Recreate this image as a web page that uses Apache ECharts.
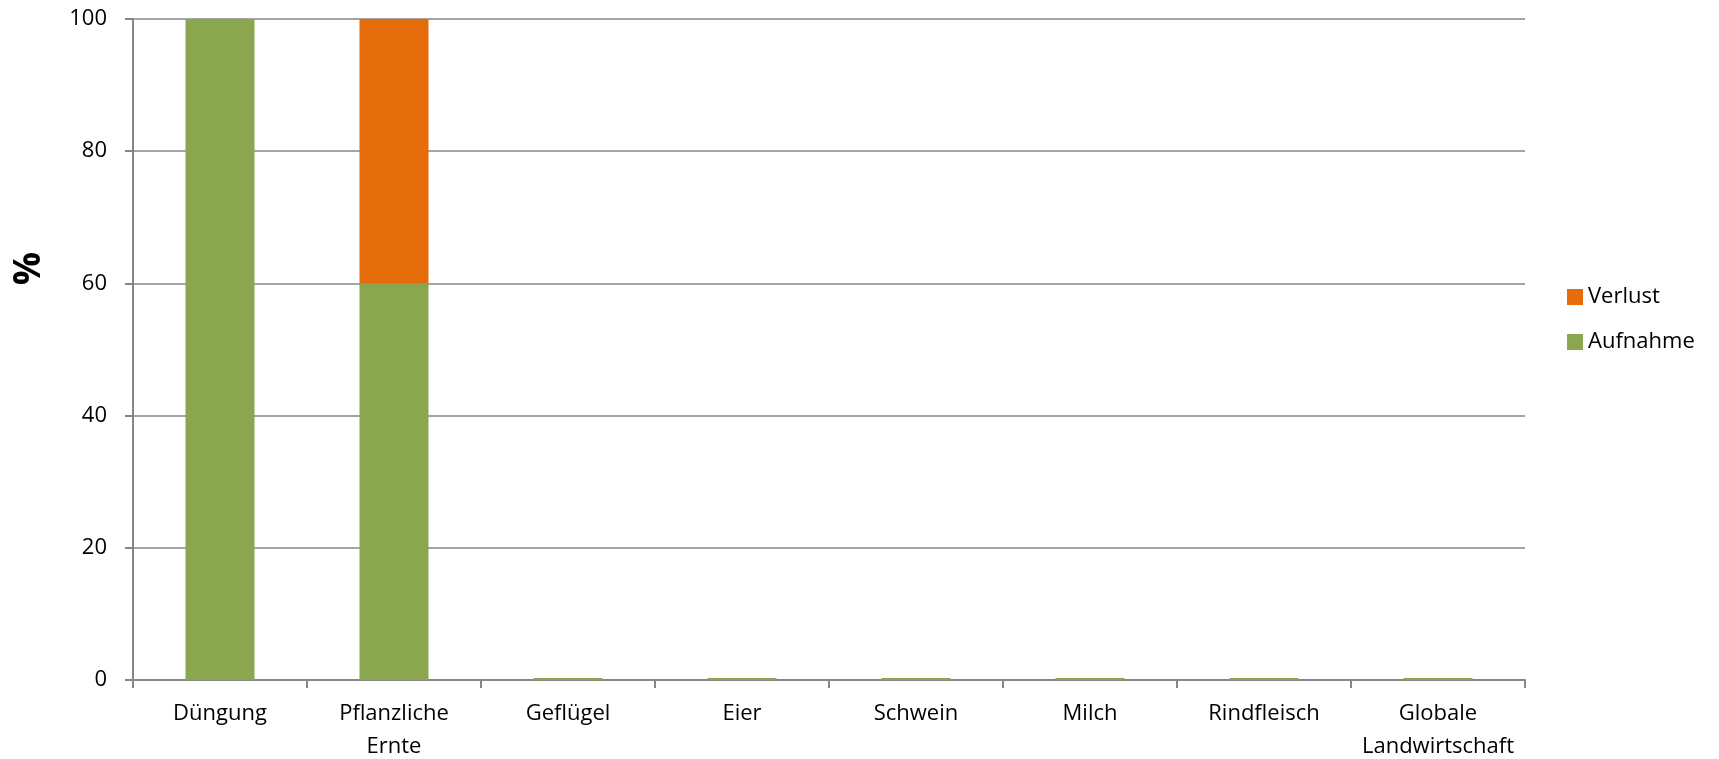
<!DOCTYPE html>
<html>
<head>
<meta charset="utf-8">
<script src="https://cdn.jsdelivr.net/npm/echarts@6/dist/echarts.min.js"></script>
<style>
    html, body { margin: 0; padding: 0; background: #fff; }
    #chart { width: 1719px; height: 759px; }
</style>
</head>
<body>
<div id="chart"></div>
<script>
// 数据
const categories = ["Düngung", "Pflanzliche\nErnte", "Geflügel", "Eier", "Schwein", "Milch", "Rindfleisch", "Globale\nLandwirtschaft"];
const aufnahme = [100, 60, 0.3, 0.3, 0.3, 0.3, 0.3, 0.3];
const verlust = [0, 40, 0, 0, 0, 0, 0, 0];
const yTicks = [0, 20, 40, 60, 80, 100];

const FONT = "'Open Sans', 'Liberation Sans', sans-serif";
const AXIS_GRAY = "#868686";

const chart = echarts.init(document.getElementById("chart"));
chart.setOption({
    animation: false,
    textStyle: { fontFamily: FONT },
    grid: { left: 133, right: 194, top: 19, bottom: 79, outerBoundsMode: "none", containLabel: false },
    legend: {
        orient: "vertical",
        left: 1562,
        top: 281,
        itemWidth: 16,
        itemHeight: 16,
        itemGap: 23,
        icon: "rect",
        textStyle: { fontSize: 22, color: "#000", fontFamily: FONT },
        data: ["Verlust", "Aufnahme"],
    },
    // y轴标题
    graphic: [{
        type: "text",
        left: 11,
        top: 252,
        rotation: Math.PI / 2,
        style: { text: "%", font: "bold 37px " + FONT, fill: "#000" },
    }],
    xAxis: {
        type: "category",
        data: categories,
        axisLine: { lineStyle: { color: AXIS_GRAY, width: 2 } },
        axisTick: { show: true, length: 8, lineStyle: { color: AXIS_GRAY, width: 2 } },
        axisLabel: { fontSize: 22, color: "#000", margin: 17, lineHeight: 33, interval: 0 },
    },
    yAxis: {
        type: "value",
        min: yTicks[0],
        max: yTicks[yTicks.length - 1],
        interval: 20,
        axisLine: { show: true, lineStyle: { color: AXIS_GRAY, width: 2 } },
        axisTick: { show: true, length: 8, lineStyle: { color: AXIS_GRAY, width: 2 } },
        axisLabel: { fontSize: 22, color: "#000", margin: 26 },
        splitLine: { lineStyle: { color: AXIS_GRAY, width: 1.5 } },
    },
    series: [
        {
            name: "Aufnahme",
            type: "bar",
            stack: "total",
            data: aufnahme,
            barWidth: 69,
            itemStyle: { color: "#8AA64F" },
        },
        {
            name: "Verlust",
            type: "bar",
            stack: "total",
            data: verlust,
            barWidth: 69,
            itemStyle: { color: "#E46C0A" },
        },
    ],
});
</script>
</body>
</html>
